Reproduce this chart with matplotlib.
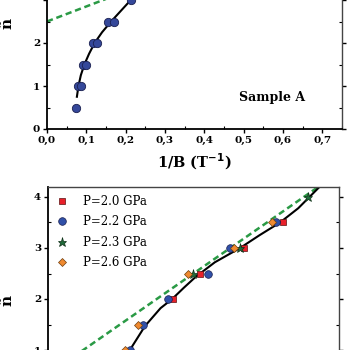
import matplotlib
matplotlib.use("Agg")
import matplotlib.pyplot as plt
import numpy as np
from matplotlib.ticker import MultipleLocator, FuncFormatter

# top panel (Sample A)
top_x = [0.074, 0.078, 0.087, 0.092, 0.099, 0.116, 0.126, 0.156, 0.170, 0.213]
top_n = [0.5, 1.0, 1.0, 1.5, 1.5, 2.0, 2.0, 2.5, 2.5, 3.0]
top_fit_x = [0.076, 0.080, 0.086, 0.095, 0.107, 0.121, 0.140, 0.163, 0.188, 0.213, 0.240, 0.270]
top_fit_n = [0.75, 1.0, 1.25, 1.5, 1.75, 2.0, 2.25, 2.5, 2.75, 3.0, 3.25, 3.5]
top_dash_x = [0.0, 0.3]
top_dash_n = [2.5, 3.55]

# bottom panel, four pressures
p20_x = [0.322, 0.392, 0.505, 0.606]
p20_n = [2.0, 2.5, 3.0, 3.5]
p22_x = [0.211, 0.245, 0.309, 0.412, 0.469, 0.588]
p22_n = [1.0, 1.5, 2.0, 2.5, 3.0, 3.5]
p23_x = [0.374, 0.495, 0.670]
p23_n = [2.5, 3.0, 4.0]
p26_x = [0.198, 0.232, 0.361, 0.479, 0.577]
p26_n = [1.0, 1.5, 2.5, 3.0, 3.5]
bot_fit_x = [0.170, 0.211, 0.250, 0.290, 0.320, 0.350, 0.380, 0.430, 0.495, 0.545, 0.598, 0.645, 0.700]
bot_fit_n = [0.6, 1.0, 1.47, 1.82, 2.0, 2.22, 2.43, 2.72, 3.0, 3.25, 3.5, 3.78, 4.2]
bot_dash_x = [0.0, 0.75]
bot_dash_n = [0.52, 4.48]

labels = ["P=2.0 GPa", "P=2.2 GPa", "P=2.3 GPa", "P=2.6 GPa"]

plt.rcParams['font.family'] = ['DejaVu Serif']
plt.rcParams['font.weight'] = 'bold'
comma = FuncFormatter(lambda v, p: f"{v:.1f}".replace('.', ','))
top_ylab = FuncFormatter(lambda v, p: f"{v:.0f}" if v < 2.5 else "")

fig = plt.figure(figsize=(3.5, 3.5), dpi=100)

def style(ax):
    ax.tick_params(which='major', direction='out', length=3, width=1, labelsize=7.5, pad=2)
    ax.tick_params(which='minor', direction='in', length=2, width=0.8)
    ax.tick_params(axis='y', right=True, which='both')
    for s in ['left', 'bottom']:
        ax.spines[s].set_linewidth(1.3)
    for s in ['right', 'top']:
        ax.spines[s].set_linewidth(1.0)
        ax.spines[s].set_color('#444444')

# top axes
ax1 = fig.add_axes([47/350, 1 - 129/350, 295/350, 3.5*43/350])
ax1.plot(top_fit_x, top_fit_n, color='black', lw=1.5, zorder=2)
ax1.plot(top_dash_x, top_dash_n, color='#2a9a45', lw=1.8, ls=(0, (2.5, 1.5)), zorder=1)
ax1.plot(top_x, top_n, 'o', ms=6, color='#35489a', mec='#1a2050', mew=0.6, zorder=3)
ax1.set_xlim(0, 0.75)
ax1.set_ylim(0, 3.5)
ax1.xaxis.set_major_locator(MultipleLocator(0.1))
ax1.xaxis.set_minor_locator(MultipleLocator(0.05))
ax1.yaxis.set_major_locator(MultipleLocator(1))
ax1.yaxis.set_minor_locator(MultipleLocator(0.5))
ax1.xaxis.set_major_formatter(comma)
ax1.yaxis.set_major_formatter(top_ylab)
style(ax1)
ax1.text(0.573, 0.74, "Sample A", fontsize=9, fontweight='bold', ha='center', va='center')
ax1.set_xlabel("1/B (T$^{\\mathbf{-1}}$)", fontsize=10.5, fontweight='bold', labelpad=5)

# bottom axes
ax2 = fig.add_axes([48/350, 1 - 401/350, 291/350, 4.2*51/350])
ax2.plot(bot_fit_x, bot_fit_n, color='black', lw=1.5, zorder=2)
ax2.plot(bot_dash_x, bot_dash_n, color='#2a9a45', lw=1.8, ls=(0, (2.5, 1.5)), zorder=1)
ax2.plot(p20_x, p20_n, 's', ms=5, color='#e8202a', mec='#5a1010', mew=0.5, label=labels[0], zorder=3)
ax2.plot(p22_x, p22_n, 'o', ms=5.5, color='#3050a8', mec='#1a2050', mew=0.5, label=labels[1], zorder=3)
ax2.plot(p23_x, p23_n, '*', ms=6.5, color='#1f6b3a', mec='#103018', mew=0.5, label=labels[2], zorder=3)
ax2.plot(p26_x, p26_n, 'D', ms=4.5, color='#f08a30', mec='#704010', mew=0.5, label=labels[3], zorder=3)
ax2.set_xlim(0, 0.75)
ax2.set_ylim(0, 4.2)
ax2.yaxis.set_major_locator(MultipleLocator(1))
ax2.yaxis.set_minor_locator(MultipleLocator(0.5))
ax2.xaxis.set_major_locator(MultipleLocator(0.1))
style(ax2)
ax2.tick_params(axis='x', labelbottom=False)
ax2.legend(loc='upper left', frameon=False, handletextpad=1.3,
           labelspacing=0.62, borderaxespad=0.3, handlelength=1.0,
           prop={'family': 'DejaVu Serif', 'weight': 'normal', 'size': 8.5})

# rotated n-tilde labels
fig.text(8/350, 1 - 23/350, "ñ", rotation=90, fontsize=11, fontweight='bold', ha='center', va='center')
fig.text(8/350, 1 - 300/350, "ñ", rotation=90, fontsize=11, fontweight='bold', ha='center', va='center')

fig.savefig("out.png", dpi=100)
